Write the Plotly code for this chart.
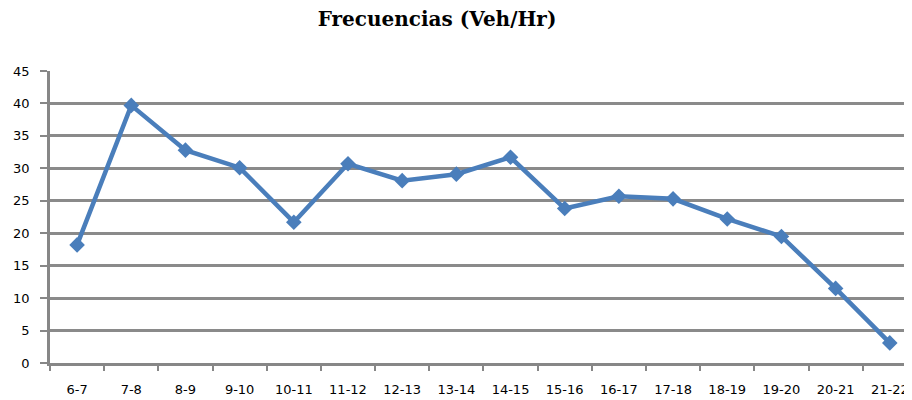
import plotly.graph_objects as go

categories = ["6-7", "7-8", "8-9", "9-10", "10-11", "11-12", "12-13", "13-14",
              "14-15", "15-16", "16-17", "17-18", "18-19", "19-20", "20-21", "21-22"]
values = [18.2, 39.7, 32.8, 30.1, 21.7, 30.7, 28.1, 29.1,
          31.7, 23.8, 25.7, 25.3, 22.2, 19.5, 11.5, 3.1]
y_ticks = list(range(0, 50, 5))

fig = go.Figure()
fig.add_trace(go.Scatter(
    x=categories, y=values, mode="lines+markers",
    line=dict(color="#4A7EBB", width=4.5),
    marker=dict(symbol="diamond", size=12, color="#4A7EBB"),
    showlegend=False,
))

fig.update_layout(
    width=904, height=392,
    margin=dict(l=42, r=0, t=63, b=37, autoexpand=False),
    paper_bgcolor="white", plot_bgcolor="white",
    title=dict(text="<b>Frecuencias (Veh/Hr)</b>", x=0.4746, xanchor="center",
               y=0.99, yanchor="top",
               font=dict(family="DejaVu Serif", size=20, color="black")),
    font=dict(family="DejaVu Sans", size=13, color="black"),
)
fig.update_xaxes(
    type="category", range=[-0.5, 15.41], tickson="boundaries",
    ticks="outside", ticklen=5, tickcolor="#878787", tickwidth=2,
    showline=True, linecolor="#878787", linewidth=2.5,
    showgrid=False, tickfont=dict(size=13), ticklabelstandoff=13,
)
fig.update_yaxes(
    range=[0, 45], tickvals=y_ticks, ticks="outside", ticklen=7,
    tickcolor="#878787", tickwidth=2,
    showline=True, linecolor="#878787", linewidth=2.5,
    showgrid=True, gridcolor="#8A8A8A", gridwidth=2.5,
    zeroline=False, tickfont=dict(size=13), ticklabelstandoff=8,
)

fig.write_html("out.html")
